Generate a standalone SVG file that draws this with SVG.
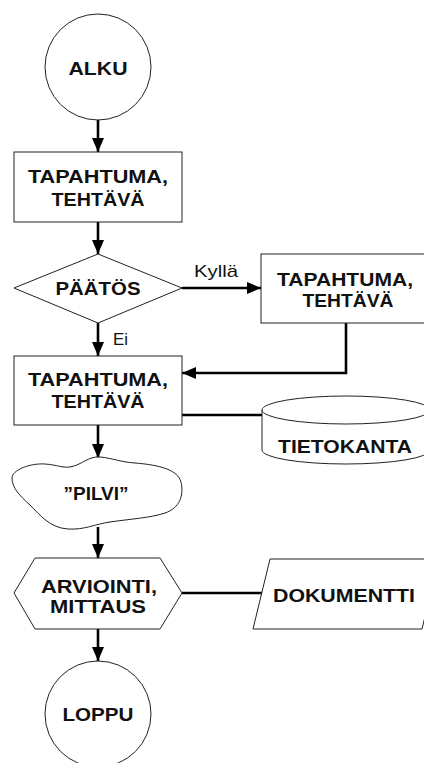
<svg xmlns="http://www.w3.org/2000/svg" width="424" height="763" viewBox="0 0 424 763">
<defs>
<marker id="arr" markerUnits="userSpaceOnUse" markerWidth="14" markerHeight="14" viewBox="0 0 14 14" refX="14" refY="7" orient="auto">
<path d="M0,1 L14,7 L0,13 Z" fill="#000"/>
</marker>
<style>
.shape{fill:#fff;stroke:#222;stroke-width:1}
.con{fill:none;stroke:#000;stroke-width:2.6}
.lbl{font-family:"Liberation Sans",Arial,Helvetica,sans-serif;font-weight:bold;font-size:18px;fill:#111;text-anchor:middle}
.small{font-family:"Liberation Sans",Arial,Helvetica,sans-serif;font-size:17px;fill:#111}
</style>
</defs>
<rect width="424" height="763" fill="#fff"/>
<g id="connectors">
<line class="con" x1="98" y1="120" x2="98" y2="152" marker-end="url(#arr)"/>
<line class="con" x1="98" y1="222" x2="98" y2="254" marker-end="url(#arr)"/>
<line class="con" x1="182" y1="288" x2="261" y2="288" marker-end="url(#arr)"/>
<line class="con" x1="98" y1="323" x2="98" y2="356" marker-end="url(#arr)"/>
<polyline class="con" points="346,323 346,373 182,373" marker-end="url(#arr)"/>
<line class="con" x1="182" y1="415" x2="262" y2="415"/>
<line class="con" x1="98" y1="425" x2="98" y2="458" marker-end="url(#arr)"/>
<line class="con" x1="98" y1="527" x2="98" y2="558" marker-end="url(#arr)"/>
<line class="con" x1="182" y1="593" x2="262" y2="593"/>
<line class="con" x1="98" y1="629" x2="98" y2="661" marker-end="url(#arr)"/>
<text class="small" x="194" y="277" textLength="44" lengthAdjust="spacingAndGlyphs">Kyllä</text>
<text class="small" x="113" y="345" textLength="15" lengthAdjust="spacingAndGlyphs">Ei</text>
</g>
<g id="alku">
<circle class="shape" cx="98" cy="67" r="53"/>
<text class="lbl" x="98" y="75" textLength="59" lengthAdjust="spacingAndGlyphs">ALKU</text>
</g>
<g id="tapahtuma1">
<rect class="shape" x="14" y="152" width="168" height="70"/>
<text class="lbl" x="98" y="183" textLength="140" lengthAdjust="spacingAndGlyphs">TAPAHTUMA,</text>
<text class="lbl" x="98" y="206" textLength="93" lengthAdjust="spacingAndGlyphs">TEHTÄVÄ</text>
</g>
<g id="paatos">
<polygon class="shape" points="14,288 98,254 182,288 98,323"/>
<text class="lbl" x="98" y="295" textLength="85" lengthAdjust="spacingAndGlyphs">PÄÄTÖS</text>
</g>
<g id="tapahtuma2">
<rect class="shape" x="261" y="254" width="168" height="69"/>
<text class="lbl" x="345" y="286" textLength="136" lengthAdjust="spacingAndGlyphs">TAPAHTUMA,</text>
<text class="lbl" x="348" y="307" textLength="91" lengthAdjust="spacingAndGlyphs">TEHTÄVÄ</text>
</g>
<g id="tapahtuma3">
<rect class="shape" x="14" y="356" width="168" height="69"/>
<text class="lbl" x="98" y="386" textLength="140" lengthAdjust="spacingAndGlyphs">TAPAHTUMA,</text>
<text class="lbl" x="98" y="408" textLength="93" lengthAdjust="spacingAndGlyphs">TEHTÄVÄ</text>
</g>
<g id="tietokanta">
<path class="shape" d="M262,410 A84,14 0 0 1 430,410 V450 A84,14 0 0 1 262,450 Z"/>
<path class="shape" fill="none" d="M262,410 A84,14 0 0 0 430,410"/>
<text class="lbl" x="345" y="453" textLength="134" lengthAdjust="spacingAndGlyphs">TIETOKANTA</text>
</g>
<g id="pilvi">
<path class="shape" d="M12,478 C12,470 30,463 45,464 C58,465 62,468 70,467 C82,465 88,456 100,457 C112,458 120,462 135,463 C160,465 178,470 181,482 C184,495 180,508 165,513 C150,518 130,519 110,522 C95,524 85,530 68,529 C50,528 40,515 30,505 C20,496 12,488 12,478 Z"/>
<text class="lbl" x="96" y="500" textLength="65" lengthAdjust="spacingAndGlyphs">”PILVI”</text>
</g>
<g id="arviointi">
<polygon class="shape" points="14,593 35,558 160,558 182,593 160,629 35,629"/>
<text class="lbl" x="99" y="593" textLength="116" lengthAdjust="spacingAndGlyphs">ARVIOINTI,</text>
<text class="lbl" x="98" y="613" textLength="96" lengthAdjust="spacingAndGlyphs">MITTAUS</text>
</g>
<g id="dokumentti">
<polygon class="shape" points="270,559 439,559 422,629 253,629"/>
<text class="lbl" x="344" y="602" textLength="142" lengthAdjust="spacingAndGlyphs">DOKUMENTTI</text>
</g>
<g id="loppu">
<circle class="shape" cx="98" cy="714" r="53"/>
<text class="lbl" x="98" y="721" textLength="71" lengthAdjust="spacingAndGlyphs">LOPPU</text>
</g>
</svg>
